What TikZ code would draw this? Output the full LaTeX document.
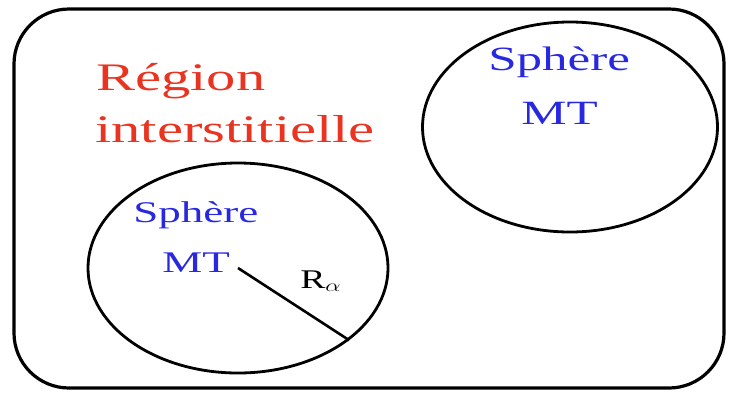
\documentclass[tikz,border=0pt]{standalone}
\usepackage{fontspec}
\setmainfont{Liberation Serif}
\usetikzlibrary{shapes.geometric}
\definecolor{regionred}{RGB}{232,52,32}
\definecolor{sphereblue}{RGB}{40,40,225}

\begin{document}
\begin{tikzpicture}[x=1pt,y=-1pt,
  cadre/.style={line width=3.2pt, rounded corners=55pt},
  sphere/.style={draw, ellipse, line width=2.8pt, inner sep=0pt},
  regiontext/.style={text=regionred, font=\fontsize{39}{39}\selectfont, anchor=base west, inner sep=0pt, xscale=1.5},
  spheretext/.style={text=sphereblue, font=\fontsize{30}{30}\selectfont, anchor=base west, inner sep=0pt, xscale=1.5}]
  \useasboundingbox (0,0) rectangle (730,392);
  % cadre de la maille
  \draw[cadre] (14,9) rectangle (724,388);
  % spheres muffin-tin
  \node[sphere, minimum width=295pt, minimum height=210pt] (mt1) at (570,127) {};
  \node[sphere, minimum width=300pt, minimum height=210pt] (mt2) at (238,268) {};
  \draw[line width=2.6pt] (mt2.center) -- (mt2.-33);
  % textes
  \node[regiontext] (reg) at (96,90) {Région};
  \node[regiontext] (inter) at (95,142) {interstitielle};
  \node[spheretext, font=\fontsize{34}{34}\selectfont] (sph1) at (488,70) {Sphère};
  \node[spheretext, font=\fontsize{34}{34}\selectfont] (mtA) at (521,124) {MT};
  \node[spheretext] (sph2) at (133,222) {Sphère};
  \node[spheretext] (mtB) at (162,272) {MT};
  \node[anchor=base west, inner sep=0pt, font=\fontsize{27}{27}\selectfont, xscale=1.4] (ra) at (300,288) {R$_\alpha$};
\end{tikzpicture}
\end{document}
